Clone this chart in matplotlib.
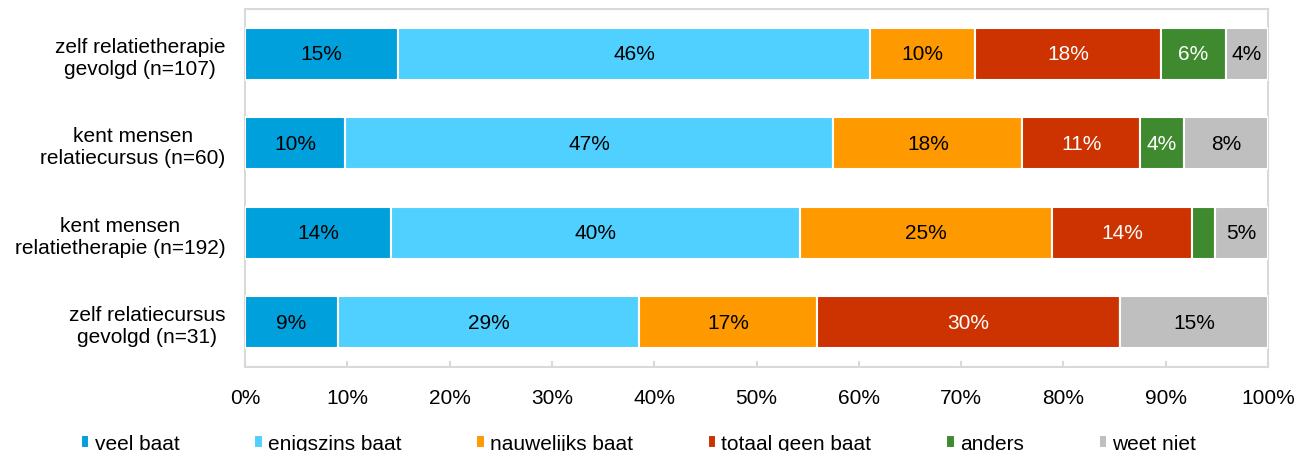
import matplotlib.pyplot as plt
import numpy as np

plt.rcParams['font.family'] = ['Liberation Sans', 'DejaVu Sans']

# categories, top to bottom
groepen = ['zelf relatietherapie\ngevolgd (n=107)',
           'kent mensen\nrelatiecursus (n=60)',
           'kent mensen\nrelatietherapie (n=192)',
           'zelf relatiecursus\ngevolgd (n=31)']

reeksen = ['veel baat', 'enigszins baat', 'nauwelijks baat',
           'totaal geen baat', 'anders', 'weet niet']

# percentages per series (one value per group)
veel_baat = [15.0, 9.8, 14.3, 9.1]
enigszins_baat = [46.1, 47.7, 40.0, 29.4]
nauwelijks_baat = [10.3, 18.5, 24.6, 17.4]
totaal_geen_baat = [18.1, 11.5, 13.7, 29.6]
anders = [6.4, 4.3, 2.2, 0.0]
weet_niet = [4.1, 8.2, 5.2, 14.5]

# labels as printed in the bars ('' = no label)
lab_veel = ['15%', '10%', '14%', '9%']
lab_enigszins = ['46%', '47%', '40%', '29%']
lab_nauwelijks = ['10%', '18%', '25%', '17%']
lab_totaal = ['18%', '11%', '14%', '30%']
lab_anders = ['6%', '4%', '', '']
lab_weet = ['4%', '8%', '5%', '15%']

kleuren = ['#00A0DC', '#4FD0FF', '#FF9900', '#CC3300', '#3F8A2F', '#BFBFBF']
tekstkleur = ['black', 'black', 'black', 'white', 'white', 'black']

data = [veel_baat, enigszins_baat, nauwelijks_baat, totaal_geen_baat, anders, weet_niet]
labels = [lab_veel, lab_enigszins, lab_nauwelijks, lab_totaal, lab_anders, lab_weet]

fs = 15

fig = plt.figure(figsize=(12.98, 4.52), dpi=100)
ax = fig.add_axes([245/1298, 1-368/452, 1023/1298, 358/452])

y = np.arange(len(groepen))
links = np.zeros(len(groepen))
for i in range(len(reeksen)):
    w = np.array(data[i])
    ax.barh(y, w, left=links, height=0.58, color=kleuren[i],
            edgecolor='white', linewidth=1.5, label=reeksen[i], zorder=3)
    for j in range(len(groepen)):
        if labels[i][j]:
            ax.text(links[j] + w[j]/2, y[j], labels[i][j], ha='center', va='center',
                    fontsize=fs, color=tekstkleur[i], zorder=4)
    links += w

ax.set_xlim(0, 100)
ax.set_ylim(3.5, -0.5)
ax.set_yticks(y)
ax.set_yticklabels(groepen, fontsize=fs)
ax.set_xticks(np.arange(0, 101, 10))
ax.set_xticklabels([str(v) + '%' for v in range(0, 101, 10)], fontsize=fs)
ax.tick_params(axis='y', length=0, pad=14)
ax.tick_params(axis='x', direction='in', length=4, color='#D9D9D9', width=1.5, pad=15)
for t in ax.get_yticklabels():
    t.set_multialignment('center')
for s in ax.spines.values():
    s.set_color('#D9D9D9')
    s.set_linewidth(1.5)

fig.legend(loc='upper left', bbox_to_anchor=(81/1298, 1-435/452), ncol=6,
           frameon=False, fontsize=fs, handlelength=0.4, handleheight=0.6,
           handletextpad=0.25, columnspacing=3.6, borderpad=0, borderaxespad=0)

plt.savefig('out.png', dpi=100)
